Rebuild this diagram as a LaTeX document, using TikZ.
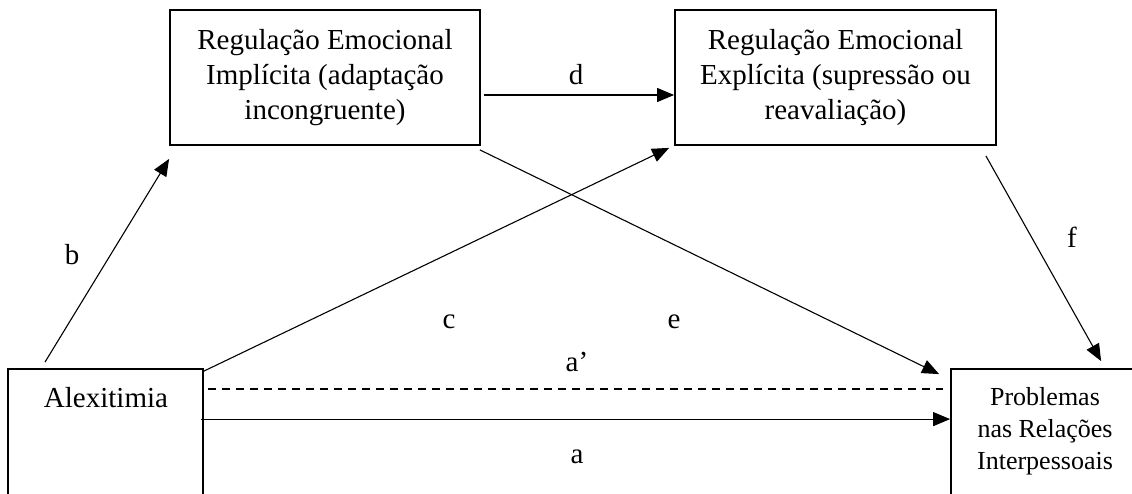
\documentclass[tikz,border=0pt]{standalone}
\usepackage{fontspec}
\setmainfont{Liberation Serif}
\usetikzlibrary{arrows.meta,calc}
\begin{document}
\begin{tikzpicture}[x=1pt,y=-1pt,
  box/.style={draw,line width=1.8pt,inner sep=0pt,anchor=center},
  conn/.style={line width=1.1pt,-{Triangle[length=17pt,width=14pt]}},
  lbl/.style={font=\fontsize{29}{35}\selectfont,inner sep=0pt},
  btxt/.style={font=\fontsize{29}{35}\selectfont,align=center,inner sep=0pt}]
\useasboundingbox (0,0) rectangle (1132,494);
\clip (0,0) rectangle (1132,494);
\fill[white] (0,0) rectangle (1132,494);
% boxes
\node[box,minimum width=310pt,minimum height=135pt] (imp) at (325,77.5) {};
\node[btxt] (impt) at (325,77.5) {Regulação Emocional\\Implícita (adaptação\\incongruente)};
\node[box,minimum width=321pt,minimum height=135pt] (exp) at (835.5,77.5) {};
\node[btxt] (expt) at (835.5,77.5) {Regulação Emocional\\Explícita (supressão ou\\reavaliação)};
\node[box,minimum width=195pt,minimum height=160pt] (alex) at (105.5,449) {};
\node[btxt] (alext) at (106,398) {Alexitimia};
\node[box,minimum width=220pt,minimum height=160pt] (prob) at (1061,449) {};
\node[font=\fontsize{26}{32}\selectfont,align=center,inner sep=0pt] (probt) at (1045,431) {Problemas\\nas Relações\\Interpessoais};
% connectors
\draw[conn] ($(alex.north)+(-60.5,-6)$) -- ($(imp.south west)+(0,13)$);
\draw[conn] ($(alex.north east)+(0,3)$) -- ($(exp.south west)+(-5,2)$);
\draw[conn] ($(imp.east)+(3,17.5)$) -- ($(exp.west)+(0,17.5)$);
\draw[conn] ($(imp.south east)+(-1,4)$) -- ($(prob.north west)+(-11,6)$);
\draw[conn] ($(exp.south east)+(-11,10)$) -- ($(prob.north west)+(151,-7)$);
\draw[line width=1.3pt,dash pattern=on 8pt off 6pt] ($(alex.north east)+(4,21)$) -- ($(prob.north west)+(-7,21)$);
\draw[conn] ($(alex.north east)+(-3,51)$) -- ($(prob.north west)+(0,51)$);
% labels
\node[lbl] (lb) at (72,255) {b};
\node[lbl] (lc) at (449,322) {c};
\node[lbl] (le) at (674,322) {e};
\node[lbl] (lf) at (1072,237) {f};
\node[lbl] (ld) at (576,75) {d};
\node[lbl] (lap) at (577,362) {a’};
\node[lbl] (la) at (577,457) {a};
\end{tikzpicture}
\end{document}
